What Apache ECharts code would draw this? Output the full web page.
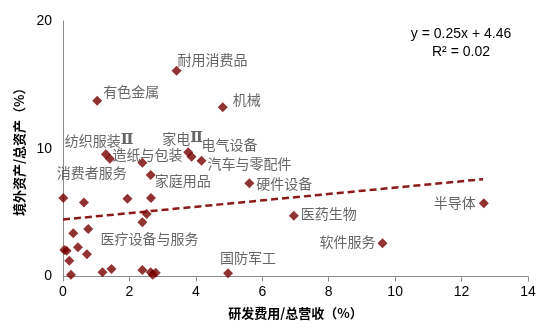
<!DOCTYPE html>
<html>
<head>
<meta charset="utf-8">
<script src="https://cdn.jsdelivr.net/npm/echarts@6/dist/echarts.min.js"></script>
<style>html,body{margin:0;padding:0;background:#fff}#c{width:550px;height:334px}</style>
</head>
<body>
<div id="c"></div>
<script>
// ---- Data ----
const rdRatio = [3.42, 1.03, 4.81, 1.29, 1.41, 2.39, 3.77, 3.87, 4.17, 2.64, 5.61,
  0.01, 0.63, 1.94, 2.65, 2.52, 2.39, 0.31, 0.76, 0.04, 0.11, 0.45, 0.72, 0.19,
  0.24, 1.19, 1.46, 2.39, 2.64, 2.70, 2.79, 4.97, 6.95, 9.62, 12.67];
const overseasRatio = [16.1, 13.76, 13.24, 9.56, 9.22, 8.9, 9.72, 9.37, 9.06, 7.94, 7.29,
  6.14, 5.8, 6.09, 6.14, 4.89, 4.24, 3.38, 3.72, 2.07, 2.02, 2.28, 1.74, 1.24,
  0.14, 0.33, 0.59, 0.51, 0.33, 0.14, 0.30, 0.25, 4.76, 2.6, 5.73];
const industryNames = ['耐用消费品', '有色金属', '机械', '纺织服装Ⅱ', '消费者服务', '造纸与包装', '家电Ⅱ', '电气设备', '汽车与零配件', '家庭用品', '硬件设备',
  '', '', '', '', '', '医疗设备与服务', '', '', '', '', '', '', '',
  '', '', '', '', '', '', '', '国防军工', '医药生物', '软件服务', '半导体'];
const trendX = [0, 12.65];
const trendY = [4.46, 7.62];
const xTicks = [0, 14, 2];   // min, max, interval
const yTicks = [0, 20, 10];
const equationText = ['y = 0.25x + 4.46', 'R² = 0.02'];

// ---- Label placement (layout only) ----
const labelLayout = {
  '耐用消费品': [1, -11, 'left'],
  '有色金属': [6, -9, 'left'],
  '机械': [10, -8, 'left'],
  '纺织服装Ⅱ': [-41, -14, 'left'],
  '消费者服务': [-53, 14, 'left'],
  '造纸与包装': [-30, -8, 'left'],
  '家电Ⅱ': [-26, -14, 'left'],
  '电气设备': [10, -12, 'left'],
  '汽车与零配件': [6, 3, 'left'],
  '家庭用品': [4, 6, 'left'],
  '硬件设备': [7, 0, 'left'],
  '医疗设备与服务': [-42, 16, 'left'],
  '国防军工': [-8, -16, 'left'],
  '医药生物': [7, -2, 'left'],
  '软件服务': [-7, -2, 'right'],
  '半导体': [-8, -1, 'right']
};

const pointColor = '#750000';
const textColor = '#404040';
const cjk = '"Noto Sans CJK SC", "Liberation Sans", Arial, sans-serif';
const latin = '"Liberation Sans", Arial, sans-serif';

const scatterData = rdRatio.map((x, i) => {
  const name = industryNames[i];
  const item = { value: [x, overseasRatio[i]], name: name };
  if (name && labelLayout[name]) {
    const l = labelLayout[name];
    item.label = {
      show: true, position: 'inside', align: l[2], verticalAlign: 'middle',
      offset: [l[0], l[1]],
      formatter: () => name.replace('Ⅱ', '{r|Ⅱ}'),
      color: textColor, fontSize: 14, fontFamily: cjk,
      rich: { r: { fontFamily: '"DejaVu Serif", "Liberation Serif", serif', fontSize: 15, fontWeight: 'bold', color: textColor } }
    };
  }
  return item;
});

const chart = echarts.init(document.getElementById('c'), null, { renderer: 'canvas' });
chart.setOption({
  animation: false,
  backgroundColor: '#fff',
  grid: { left: 63, right: 22, top: 21, bottom: 57.5, containLabel: false },
  xAxis: {
    type: 'value', min: xTicks[0], max: xTicks[1], interval: xTicks[2],
    name: '研发费用/总营收（%）', nameLocation: 'middle', nameGap: 30,
    nameTextStyle: { fontSize: 13, fontWeight: 'bold', color: '#000', fontFamily: cjk },
    axisLine: { show: true, lineStyle: { color: '#8C8C8C', width: 1 } },
    axisTick: { show: true, length: 5, lineStyle: { color: '#8C8C8C' } },
    axisLabel: { fontSize: 14, color: '#000', fontFamily: latin, margin: 9 },
    splitLine: { show: false }
  },
  yAxis: {
    type: 'value', min: yTicks[0], max: yTicks[1], interval: yTicks[2],
    name: '境外资产/总资产（%）', nameLocation: 'middle', nameGap: 35, nameRotate: 90,
    nameTextStyle: { fontSize: 13, fontWeight: 'bold', color: '#000', fontFamily: cjk },
    axisLine: { show: true, lineStyle: { color: '#8C8C8C', width: 1 } },
    axisTick: { show: false },
    axisLabel: { fontSize: 14, color: '#000', fontFamily: latin, margin: 11 },
    splitLine: { show: false }
  },
  series: [
    {
      type: 'line',
      data: trendX.map((x, i) => [x, trendY[i]]),
      symbol: 'none',
      lineStyle: { color: '#8B1A1A', width: 2.5, type: [7, 4] },
      z: 1
    },
    {
      type: 'scatter',
      data: scatterData,
      symbol: 'diamond',
      symbolSize: 10,
      itemStyle: { color: pointColor },
      label: { show: false },
      z: 2
    }
  ],
  graphic: [
    { type: 'text', x: 461, y: 34, style: { text: equationText[0], textAlign: 'center', textVerticalAlign: 'middle', fontSize: 14, fontFamily: latin, fill: '#000' } },
    { type: 'text', x: 461, y: 52, style: { text: equationText[1], textAlign: 'center', textVerticalAlign: 'middle', fontSize: 14, fontFamily: latin, fill: '#000' } }
  ]
});
</script>
</body>
</html>
